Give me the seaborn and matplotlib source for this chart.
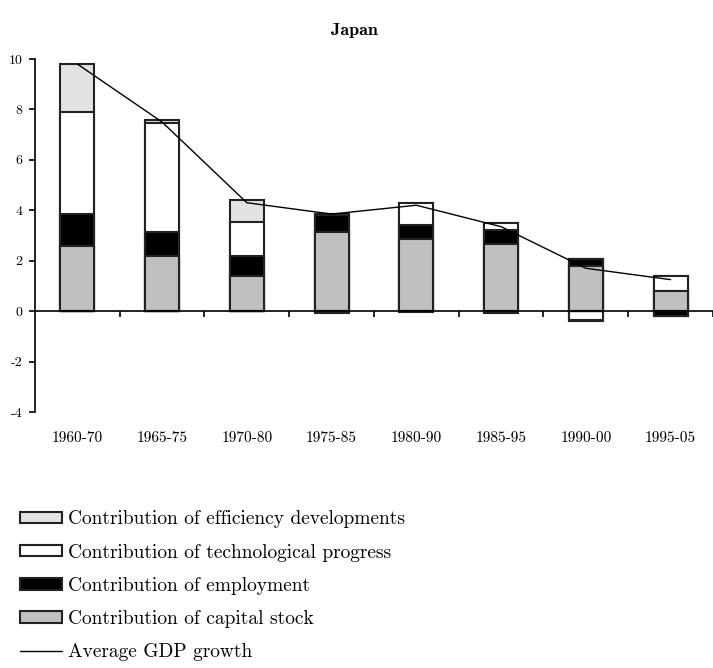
import numpy as np
import seaborn as sns
import matplotlib.pyplot as plt
from matplotlib.patches import Patch
from matplotlib.lines import Line2D
import matplotlib.transforms as mtransforms

# data (percentage points)
periods = ["1960-70", "1965-75", "1970-80", "1975-85", "1980-90", "1985-95", "1990-00", "1995-05"]
capital = [2.6, 2.2, 1.4, 3.15, 2.85, 2.65, 1.8, 0.8]
employment = [1.25, 0.95, 0.8, 0.65, 0.55, 0.55, 0.25, -0.2]
technology = [4.05, 4.3, 1.35, 0.05, 0.9, 0.3, -0.35, 0.6]
efficiency = [1.9, 0.12, 0.85, -0.08, -0.05, -0.08, -0.05, 0.0]
gdp_growth = [9.8, 7.5, 4.3, 3.85, 4.2, 3.35, 1.7, 1.25]

labels = ["Contribution of efficiency developments",
          "Contribution of technological progress",
          "Contribution of employment",
          "Contribution of capital stock"]
colors = ["#e2e2e2", "#ffffff", "#000000", "#c0c0c0"]

sns.set_style("white")
plt.rcParams["font.family"] = ["cmr10", "DejaVu Serif"]
plt.rcParams["axes.unicode_minus"] = False
plt.rcParams["text.color"] = "black"
plt.rcParams["xtick.color"] = "black"
plt.rcParams["ytick.color"] = "black"

fig = plt.figure(figsize=(7.13, 6.68), dpi=100)
ax = fig.add_axes([0.049, 0.3832, 0.951, 0.5285])

# stacked bars: draw cumulative totals, top layer first
layers = [capital, employment, technology, efficiency]
layer_colors = colors[::-1]
pos = np.cumsum([np.clip(l, 0, None) for l in layers], axis=0)
neg = np.cumsum([np.clip(l, None, 0) for l in layers], axis=0)
for k in range(3, -1, -1):
    for stack in (pos, neg):
        sns.barplot(x=periods, y=stack[k], color=layer_colors[k], saturation=1,
                    width=0.4, edgecolor="#222222", linewidth=1.5, ax=ax, zorder=2)

sns.lineplot(x=periods, y=gdp_growth, sort=False, color="black", linewidth=1.0, ax=ax, zorder=3)

ax.set_xlim(-0.5, 7.5)
ax.set_ylim(-4, 10)
ax.spines["top"].set_visible(False)
ax.spines["right"].set_visible(False)
ax.spines["bottom"].set_position(("data", 0))
ax.spines["left"].set_color("black")
ax.spines["bottom"].set_color("black")
ax.spines["left"].set_linewidth(1.2)
ax.spines["bottom"].set_linewidth(1.2)

ax.set_yticks(np.arange(-4, 11, 2))
ax.set_yticklabels([str(v) for v in np.arange(-4, 11, 2)])
ax.set_xticks(np.arange(0.5, 8, 1))
ax.set_xticklabels([])
ax.tick_params(axis="both", direction="out", length=4, width=1.2, color="black",
               left=True, bottom=True, labelsize=10, pad=5)
ax.set_xlabel("")
ax.set_ylabel("")

trans = mtransforms.blended_transform_factory(ax.transData, ax.transAxes)
for i, p in enumerate(periods):
    ax.text(i, -0.075, p, transform=trans, ha="center", va="center", fontsize=11)

fig.text(0.497, 0.955, "Japan", ha="center", va="center", fontsize=13,
         family=["cmb10", "DejaVu Serif"], fontweight="bold")

handles = [Patch(facecolor=c, edgecolor="#222222", linewidth=1.5) for c in colors]
handles.append(Line2D([0], [0], color="black", linewidth=1.0))
fig.legend(handles, labels + ["Average GDP growth"], loc="upper left",
           bbox_to_anchor=(0.028, 0.236), frameon=False, fontsize=14,
           handlelength=2.15, handleheight=0.55, labelspacing=0.78, handletextpad=0.3,
           borderaxespad=0, borderpad=0)

fig.savefig("out.png", dpi=100)
